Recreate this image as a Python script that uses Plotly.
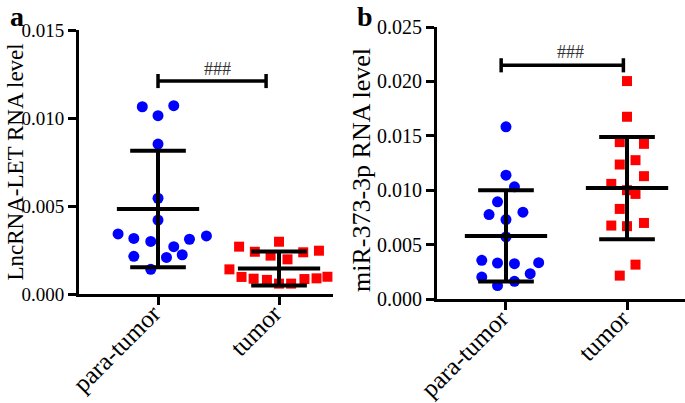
import plotly.graph_objects as go

# ---------------- data ----------------
categories = ["para-tumor", "tumor"]

# Panel a: LncRNA-LET RNA level
a_para = [0.01064, 0.0107, 0.01013, 0.00852, 0.00544, 0.0042, 0.00341, 0.00316,
          0.00299, 0.00269, 0.00311, 0.0033, 0.00214, 0.00208, 0.00223, 0.0014]
a_para_jit = [-0.13, 0.13, 0.0, 0.0, 0.0, 0.0, -0.33, -0.2,
              -0.06, 0.13, 0.26, 0.4, -0.2, 0.07, 0.2, -0.06]
a_tumor = [0.00269, 0.00297, 0.0024, 0.00218, 0.00197, 0.00237, 0.00246, 0.0014,
           0.00097, 0.00087, 0.0008, 0.00059, 0.00059, 0.00085, 0.00089, 0.00098]
a_tumor_jit = [-0.33, 0.0, -0.2, -0.07, 0.07, 0.2, 0.33, -0.41,
               -0.31, -0.21, -0.1, 0.0, 0.1, 0.21, 0.31, 0.4]
a_mean = [0.00483, 0.00145]
a_sd = [0.00331, 0.00096]

# Panel b: miR-373-3p RNA level
b_para = [0.01583, 0.01138, 0.01031, 0.00893, 0.00776, 0.00798, 0.0073, 0.0057,
          0.00356, 0.00331, 0.00325, 0.00334, 0.00233, 0.00202, 0.00163, 0.00123]
b_para_jit = [0.0, 0.0, 0.07, -0.07, -0.14, 0.14, 0.0, 0.0,
              -0.2, -0.07, 0.07, 0.27, 0.2, -0.2, 0.07, -0.07]
b_tumor = [0.02003, 0.01675, 0.01442, 0.01426, 0.01236, 0.01276, 0.01129, 0.01058,
           0.0100, 0.00966, 0.00828, 0.00675, 0.00669, 0.00699, 0.00316, 0.00215]
b_tumor_jit = [0.0, 0.0, -0.06, 0.14, -0.06, 0.07, 0.14, -0.13,
               0.0, 0.07, -0.06, -0.13, 0.0, 0.14, 0.07, -0.06]
b_mean = [0.0058, 0.0102]
b_sd = [0.0042, 0.0047]

a_yticks = [0.0, 0.005, 0.010, 0.015]
b_yticks = [0.0, 0.005, 0.010, 0.015, 0.020, 0.025]

FONT = "Liberation Serif"
W, H = 685, 403

fig = go.Figure()


def add_points(vals, jit, cat_idx, xa, ya, color, symbol, size):
    fig.add_trace(go.Scatter(
        x=[cat_idx + j for j in jit], y=vals, mode="markers",
        marker=dict(color=color, symbol=symbol, size=size, line=dict(width=0)),
        xaxis=xa, yaxis=ya, cliponaxis=False, showlegend=False, hoverinfo="skip"))


def add_errbars(means, sds, xa, ya):
    xs, ys = [], []
    for i, (m, s) in enumerate(zip(means, sds)):
        xs += [i, i, None, i - 0.34, i + 0.34, None,
               i - 0.23, i + 0.23, None, i - 0.23, i + 0.23, None]
        ys += [m - s, m + s, None, m, m, None,
               m + s, m + s, None, m - s, m - s, None]
    fig.add_trace(go.Scatter(x=xs, y=ys, mode="lines",
                             line=dict(color="black", width=4),
                             xaxis=xa, yaxis=ya, cliponaxis=False,
                             showlegend=False, hoverinfo="skip"))


def add_bracket(x0, x1, y, cap, xa, ya):
    fig.add_trace(go.Scatter(
        x=[x0, x0, None, x0, x1, None, x1, x1],
        y=[y - cap, y + cap, None, y, y, None, y - cap, y + cap],
        mode="lines", line=dict(color="black", width=3.5),
        xaxis=xa, yaxis=ya, cliponaxis=False, showlegend=False, hoverinfo="skip"))


# panel a
add_points(a_para, a_para_jit, 0, "x", "y", "#0000FF", "circle", 11)
add_points(a_tumor, a_tumor_jit, 1, "x", "y", "#FF0000", "square", 10)
add_errbars(a_mean, a_sd, "x", "y")
add_bracket(0, 0.893, 0.0121, 0.0004, "x", "y")

# panel b
add_points(b_para, b_para_jit, 0, "x2", "y2", "#0000FF", "circle", 11)
add_points(b_tumor, b_tumor_jit, 1, "x2", "y2", "#FF0000", "square", 10)
add_errbars(b_mean, b_sd, "x2", "y2")
add_bracket(-0.04, 0.97, 0.02148, 0.00065, "x2", "y2")


def px_x(p):
    return p / W


def px_y(p):
    return 1 - p / H


axis_common = dict(showgrid=False, zeroline=False, showline=True, linecolor="black",
                   linewidth=3, ticks="outside", ticklen=8, tickwidth=2.5,
                   tickcolor="black", fixedrange=True, automargin=False)
xcat = dict(tickvals=[0, 1], ticktext=categories, tickangle=-45,
            ticklabelstandoff=-16, ticklabelshift=-5,
            tickfont=dict(size=25, family=FONT))

fig.update_layout(
    template="none",
    width=W, height=H, autosize=False,
    margin=dict(l=0, r=0, t=0, b=0, pad=0),
    paper_bgcolor="white", plot_bgcolor="white",
    font=dict(family=FONT, color="black"),
    xaxis=dict(domain=[px_x(79), px_x(333)], range=[-0.653, 1.446], anchor="y",
               **xcat, **axis_common),
    yaxis=dict(domain=[px_y(294), px_y(30)], range=[0, 0.015], anchor="x",
               tickvals=a_yticks, tickformat=".3f",
               tickfont=dict(size=19, family=FONT), **axis_common),
    xaxis2=dict(domain=[px_x(437), 1.0], range=[-0.570, 1.479], anchor="y2",
                **xcat, **axis_common),
    yaxis2=dict(domain=[px_y(299), px_y(27)], range=[0, 0.025], anchor="x2",
                tickvals=b_yticks, tickformat=".3f",
                tickfont=dict(size=20, family=FONT), **axis_common),
)

annos = [
    dict(text="<b>a</b>", x=px_x(8), y=px_y(-1), xref="paper", yref="paper",
         xanchor="left", yanchor="top", showarrow=False, font=dict(size=28, family=FONT)),
    dict(text="<b>b</b>", x=px_x(355), y=px_y(-1), xref="paper", yref="paper",
         xanchor="left", yanchor="top", showarrow=False, font=dict(size=28, family=FONT)),
    dict(text="LncRNA-LET RNA level", x=0, y=px_y(162), xref="paper", yref="paper",
         xanchor="left", textangle=-90, showarrow=False, font=dict(size=23, family=FONT)),
    dict(text="miR-373-3p RNA level", x=px_x(361), y=px_y(170), xref="paper", yref="paper",
         textangle=-90, showarrow=False, font=dict(size=26, family=FONT)),
    dict(text="###", x=0.49, y=0.0121, xref="x", yref="y", yanchor="bottom", yshift=0,
         showarrow=False, font=dict(size=18, family=FONT, color="#333333")),
    dict(text="###", x=0.535, y=0.02148, xref="x2", yref="y2", yanchor="bottom", yshift=1,
         showarrow=False, font=dict(size=18, family=FONT, color="#333333")),
]
fig.update_layout(annotations=annos)

fig.write_html("out.html", config={"displayModeBar": False},
               post_script="document.body.style.margin='0';document.body.style.overflow='hidden';")
